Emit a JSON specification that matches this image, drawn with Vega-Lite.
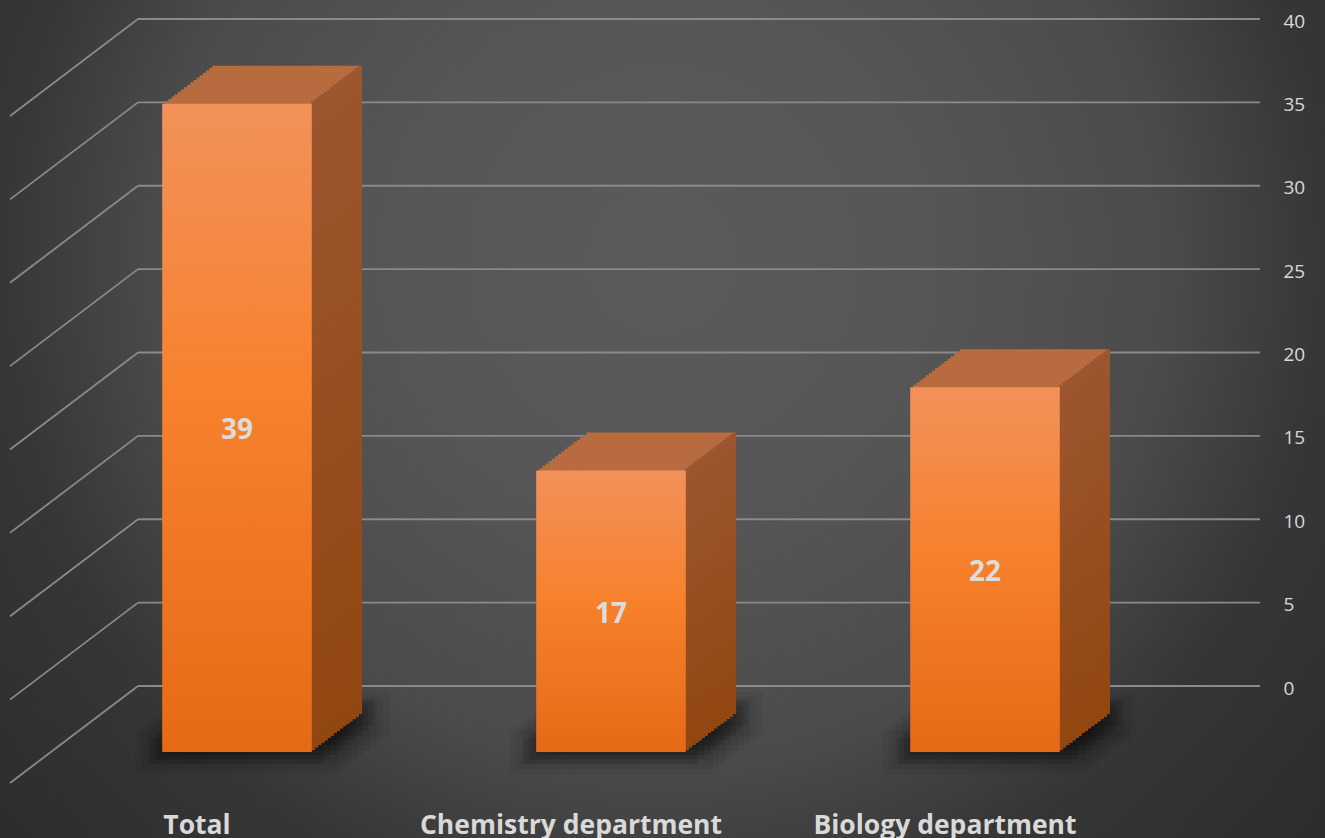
{
"$schema":"https://vega.github.io/schema/vega-lite/v6.json",
"width":1122,"height":667,
"autosize":{"type":"none"},
"padding":{"left":138,"top":19,"right":65,"bottom":152},
"background":"#363636",
"config":{"view":{"stroke":null},"font":"Open Sans"},
"data":{"values":[{"c":"Total","v":39},{"c":"Chemistry department","v":17},{"c":"Biology department","v":22}]},
"resolve":{"scale":{"x":"independent","y":"independent"}},
"layer":[
{"data":{"values":[{}]},"mark":{"type":"rect","fill":{"gradient":"radial","x1":0.5,"y1":0.38,"r1":0,"x2":0.5,"y2":0.38,"r2":1,"stops":[{"offset":0,"color":"#5b5b5b"},{"offset":0.2,"color":"#565656"},{"offset":0.38,"color":"#4b4b4b"},{"offset":0.5,"color":"#363636"},{"offset":0.65,"color":"#2d2d2d"},{"offset":1,"color":"#2a2a2a"}]},"xOffset":-138,"x2Offset":65,"yOffset":152,"y2Offset":-19},
 "encoding":{"x":{"datum":0,"type":"quantitative","scale":{"domain":[0,1]},"axis":null},"x2":{"datum":1},"y":{"datum":0,"type":"quantitative","scale":{"domain":[0,1]},"axis":null},"y2":{"datum":1}}},
{"data":{"values":[{"t":0},{"t":5},{"t":10},{"t":15},{"t":20},{"t":25},{"t":30},{"t":35},{"t":40}]},
 "encoding":{"y":{"field":"t","type":"quantitative","scale":{"domain":[0,40],"nice":false},"axis":{"orient":"right","values":[0,5,10,15,20,25,30,35,40],"grid":false,"ticks":false,"domain":false,"title":null,"labelPadding":23,"labelFontSize":19,"labelColor":"#d9d9d9","labelFont":"Open Sans","labelOffset":2,"zindex":1}}},
 "layer":[
  {"mark":{"type":"rule","color":"#8a8a8a","strokeWidth":1.8}},
  {"mark":{"type":"rule","color":"#8a8a8a","strokeWidth":1.8,"x2Offset":-128,"y2Offset":97},"encoding":{"x":{"datum":0,"type":"quantitative","scale":{"domain":[0,1]},"axis":null},"x2":{"datum":0},"y2":{"field":"t"}}}
 ]},
{"encoding":{"x":{"field":"c","type":"nominal","sort":null,"scale":{"paddingInner":0.6,"paddingOuter":0.3},"axis":{"orient":"bottom","labelAngle":0,"labelOffset":-128,"labelPadding":126,"ticks":false,"domain":false,"grid":false,"title":null,"labelFont":"Open Sans","labelFontWeight":"bold","labelFontSize":26.5,"labelColor":"#d9d9d9","labelLimit":0,"zindex":1}},
  "y":{"field":"v","type":"quantitative","scale":{"domain":[0,40],"nice":false},"axis":null},
  "y2":{"datum":0}},
 "layer":[
  {"mark":{"type":"bar","fill":"#000000","opacity":0.05,"width":204,"xOffset":-88,"yOffset":44,"y2Offset":88},"encoding":{"y":{"datum":0},"y2":{"datum":0}}},
  {"mark":{"type":"bar","fill":"#000000","opacity":0.05,"width":204,"xOffset":-81.75,"yOffset":39.25,"y2Offset":83.25},"encoding":{"y":{"datum":0},"y2":{"datum":0}}},
  {"mark":{"type":"bar","fill":"#000000","opacity":0.05,"width":204,"xOffset":-75.5,"yOffset":34.5,"y2Offset":78.5},"encoding":{"y":{"datum":0},"y2":{"datum":0}}},
  {"mark":{"type":"bar","fill":"#000000","opacity":0.05,"width":204,"xOffset":-69.25,"yOffset":29.75,"y2Offset":73.75},"encoding":{"y":{"datum":0},"y2":{"datum":0}}},
  {"mark":{"type":"bar","fill":"#000000","opacity":0.05,"width":204,"xOffset":-63,"yOffset":25,"y2Offset":69},"encoding":{"y":{"datum":0},"y2":{"datum":0}}},
  {"mark":{"type":"bar","fill":"#000000","opacity":0.05,"width":204,"xOffset":-56.75,"yOffset":20.25,"y2Offset":64.25},"encoding":{"y":{"datum":0},"y2":{"datum":0}}},
  {"mark":{"type":"bar","fill":"#000000","opacity":0.05,"width":204,"xOffset":-50.5,"yOffset":15.5,"y2Offset":59.5},"encoding":{"y":{"datum":0},"y2":{"datum":0}}},
  {"mark":{"type":"bar","fill":"#000000","opacity":0.05,"width":204,"xOffset":-44.25,"yOffset":10.75,"y2Offset":54.75},"encoding":{"y":{"datum":0},"y2":{"datum":0}}},
  {"mark":{"type":"bar","fill":"#000000","opacity":0.05,"width":204,"xOffset":-38,"yOffset":6,"y2Offset":50},"encoding":{"y":{"datum":0},"y2":{"datum":0}}},

  {"mark":{"type":"bar","fill":"#000000","opacity":0.1,"width":174,"xOffset":-88,"yOffset":52,"y2Offset":78},"encoding":{"y":{"datum":0},"y2":{"datum":0}}},
  {"mark":{"type":"bar","fill":"#000000","opacity":0.1,"width":174,"xOffset":-81.75,"yOffset":47.25,"y2Offset":73.25},"encoding":{"y":{"datum":0},"y2":{"datum":0}}},
  {"mark":{"type":"bar","fill":"#000000","opacity":0.1,"width":174,"xOffset":-75.5,"yOffset":42.5,"y2Offset":68.5},"encoding":{"y":{"datum":0},"y2":{"datum":0}}},
  {"mark":{"type":"bar","fill":"#000000","opacity":0.1,"width":174,"xOffset":-69.25,"yOffset":37.75,"y2Offset":63.75},"encoding":{"y":{"datum":0},"y2":{"datum":0}}},
  {"mark":{"type":"bar","fill":"#000000","opacity":0.1,"width":174,"xOffset":-63,"yOffset":33,"y2Offset":59},"encoding":{"y":{"datum":0},"y2":{"datum":0}}},
  {"mark":{"type":"bar","fill":"#000000","opacity":0.1,"width":174,"xOffset":-56.75,"yOffset":28.25,"y2Offset":54.25},"encoding":{"y":{"datum":0},"y2":{"datum":0}}},
  {"mark":{"type":"bar","fill":"#000000","opacity":0.1,"width":174,"xOffset":-50.5,"yOffset":23.5,"y2Offset":49.5},"encoding":{"y":{"datum":0},"y2":{"datum":0}}},
  {"mark":{"type":"bar","fill":"#000000","opacity":0.1,"width":174,"xOffset":-44.25,"yOffset":18.75,"y2Offset":44.75},"encoding":{"y":{"datum":0},"y2":{"datum":0}}},
  {"mark":{"type":"bar","fill":"#000000","opacity":0.1,"width":174,"xOffset":-38,"yOffset":14,"y2Offset":40},"encoding":{"y":{"datum":0},"y2":{"datum":0}}},

  {"mark":{"type":"bar","fill":"#b86b3f","xOffset":-84.875,"yOffset":65.625,"y2Offset":63.625}},
  {"mark":{"type":"bar","fill":"#b86b3f","xOffset":-81.75,"yOffset":63.25,"y2Offset":61.25}},
  {"mark":{"type":"bar","fill":"#b86b3f","xOffset":-78.625,"yOffset":60.875,"y2Offset":58.875}},
  {"mark":{"type":"bar","fill":"#b86b3f","xOffset":-75.5,"yOffset":58.5,"y2Offset":56.5}},
  {"mark":{"type":"bar","fill":"#b86b3f","xOffset":-72.375,"yOffset":56.125,"y2Offset":54.125}},
  {"mark":{"type":"bar","fill":"#b86b3f","xOffset":-69.25,"yOffset":53.75,"y2Offset":51.75}},
  {"mark":{"type":"bar","fill":"#b86b3f","xOffset":-66.125,"yOffset":51.375,"y2Offset":49.375}},
  {"mark":{"type":"bar","fill":"#b86b3f","xOffset":-63,"yOffset":49,"y2Offset":47}},
  {"mark":{"type":"bar","fill":"#b86b3f","xOffset":-59.875,"yOffset":46.625,"y2Offset":44.625}},
  {"mark":{"type":"bar","fill":"#b86b3f","xOffset":-56.75,"yOffset":44.25,"y2Offset":42.25}},
  {"mark":{"type":"bar","fill":"#b86b3f","xOffset":-53.625,"yOffset":41.875,"y2Offset":39.875}},
  {"mark":{"type":"bar","fill":"#b86b3f","xOffset":-50.5,"yOffset":39.5,"y2Offset":37.5}},
  {"mark":{"type":"bar","fill":"#b86b3f","xOffset":-47.375,"yOffset":37.125,"y2Offset":35.125}},
  {"mark":{"type":"bar","fill":"#b86b3f","xOffset":-44.25,"yOffset":34.75,"y2Offset":32.75}},
  {"mark":{"type":"bar","fill":"#b86b3f","xOffset":-41.125,"yOffset":32.375,"y2Offset":30.375}},
  {"mark":{"type":"bar","fill":"#b86b3f","xOffset":-38,"yOffset":30,"y2Offset":28}},

  {"mark":{"type":"bar","width":4,"fill":{"gradient":"linear","x1":0,"y1":0,"x2":0,"y2":1,"stops":[{"offset":0,"color":"#9c5630"},{"offset":1,"color":"#924710"}]},"xOffset":-11.875,"yOffset":65.625,"y2Offset":63.625}},
  {"mark":{"type":"bar","width":4,"fill":{"gradient":"linear","x1":0,"y1":0,"x2":0,"y2":1,"stops":[{"offset":0,"color":"#9c5630"},{"offset":1,"color":"#924710"}]},"xOffset":-8.75,"yOffset":63.25,"y2Offset":61.25}},
  {"mark":{"type":"bar","width":4,"fill":{"gradient":"linear","x1":0,"y1":0,"x2":0,"y2":1,"stops":[{"offset":0,"color":"#9c5630"},{"offset":1,"color":"#924710"}]},"xOffset":-5.625,"yOffset":60.875,"y2Offset":58.875}},
  {"mark":{"type":"bar","width":4,"fill":{"gradient":"linear","x1":0,"y1":0,"x2":0,"y2":1,"stops":[{"offset":0,"color":"#9c5630"},{"offset":1,"color":"#924710"}]},"xOffset":-2.5,"yOffset":58.5,"y2Offset":56.5}},
  {"mark":{"type":"bar","width":4,"fill":{"gradient":"linear","x1":0,"y1":0,"x2":0,"y2":1,"stops":[{"offset":0,"color":"#9c5630"},{"offset":1,"color":"#924710"}]},"xOffset":0.625,"yOffset":56.125,"y2Offset":54.125}},
  {"mark":{"type":"bar","width":4,"fill":{"gradient":"linear","x1":0,"y1":0,"x2":0,"y2":1,"stops":[{"offset":0,"color":"#9c5630"},{"offset":1,"color":"#924710"}]},"xOffset":3.75,"yOffset":53.75,"y2Offset":51.75}},
  {"mark":{"type":"bar","width":4,"fill":{"gradient":"linear","x1":0,"y1":0,"x2":0,"y2":1,"stops":[{"offset":0,"color":"#9c5630"},{"offset":1,"color":"#924710"}]},"xOffset":6.875,"yOffset":51.375,"y2Offset":49.375}},
  {"mark":{"type":"bar","width":4,"fill":{"gradient":"linear","x1":0,"y1":0,"x2":0,"y2":1,"stops":[{"offset":0,"color":"#9c5630"},{"offset":1,"color":"#924710"}]},"xOffset":10,"yOffset":49,"y2Offset":47}},
  {"mark":{"type":"bar","width":4,"fill":{"gradient":"linear","x1":0,"y1":0,"x2":0,"y2":1,"stops":[{"offset":0,"color":"#9c5630"},{"offset":1,"color":"#924710"}]},"xOffset":13.125,"yOffset":46.625,"y2Offset":44.625}},
  {"mark":{"type":"bar","width":4,"fill":{"gradient":"linear","x1":0,"y1":0,"x2":0,"y2":1,"stops":[{"offset":0,"color":"#9c5630"},{"offset":1,"color":"#924710"}]},"xOffset":16.25,"yOffset":44.25,"y2Offset":42.25}},
  {"mark":{"type":"bar","width":4,"fill":{"gradient":"linear","x1":0,"y1":0,"x2":0,"y2":1,"stops":[{"offset":0,"color":"#9c5630"},{"offset":1,"color":"#924710"}]},"xOffset":19.375,"yOffset":41.875,"y2Offset":39.875}},
  {"mark":{"type":"bar","width":4,"fill":{"gradient":"linear","x1":0,"y1":0,"x2":0,"y2":1,"stops":[{"offset":0,"color":"#9c5630"},{"offset":1,"color":"#924710"}]},"xOffset":22.5,"yOffset":39.5,"y2Offset":37.5}},
  {"mark":{"type":"bar","width":4,"fill":{"gradient":"linear","x1":0,"y1":0,"x2":0,"y2":1,"stops":[{"offset":0,"color":"#9c5630"},{"offset":1,"color":"#924710"}]},"xOffset":25.625,"yOffset":37.125,"y2Offset":35.125}},
  {"mark":{"type":"bar","width":4,"fill":{"gradient":"linear","x1":0,"y1":0,"x2":0,"y2":1,"stops":[{"offset":0,"color":"#9c5630"},{"offset":1,"color":"#924710"}]},"xOffset":28.75,"yOffset":34.75,"y2Offset":32.75}},
  {"mark":{"type":"bar","width":4,"fill":{"gradient":"linear","x1":0,"y1":0,"x2":0,"y2":1,"stops":[{"offset":0,"color":"#9c5630"},{"offset":1,"color":"#924710"}]},"xOffset":31.875,"yOffset":32.375,"y2Offset":30.375}},
  {"mark":{"type":"bar","width":4,"fill":{"gradient":"linear","x1":0,"y1":0,"x2":0,"y2":1,"stops":[{"offset":0,"color":"#9c5630"},{"offset":1,"color":"#924710"}]},"xOffset":35,"yOffset":30,"y2Offset":28}},

  {"mark":{"type":"bar","fill":{"gradient":"linear","x1":0,"y1":0,"x2":0,"y2":1,"stops":[{"offset":0,"color":"#f2915a"},{"offset":0.45,"color":"#f7812d"},{"offset":1,"color":"#e56a16"}]},"xOffset":-88,"yOffset":68,"y2Offset":66}}
 ]},
{"mark":{"type":"text","font":"Open Sans","fontWeight":"bold","fontSize":28,"fill":"#dcdcdc","baseline":"middle","align":"center","xOffset":-88,"yOffset":70.5},
 "encoding":{"x":{"field":"c","type":"nominal","sort":null,"scale":{"type":"band","paddingInner":0.6,"paddingOuter":0.3},"axis":null},
  "y":{"field":"v","type":"quantitative","scale":{"domain":[0,80],"nice":false},"axis":null},
  "text":{"field":"v"}}}
]
}
